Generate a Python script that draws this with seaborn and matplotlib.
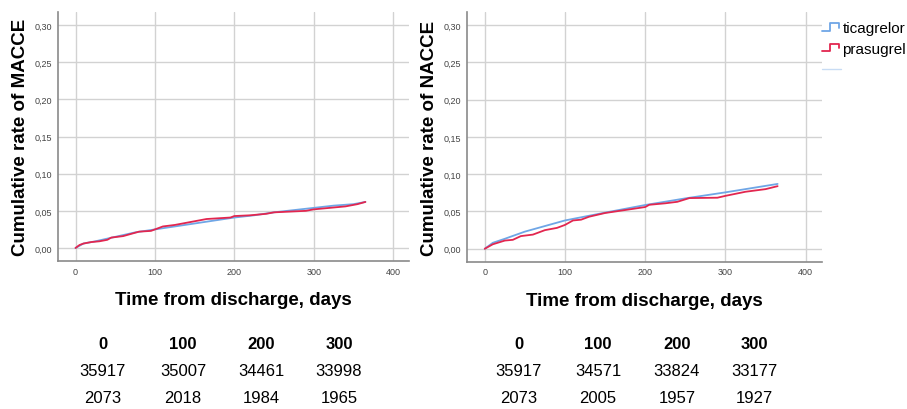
import matplotlib
matplotlib.use("Agg")
import matplotlib.pyplot as plt
import seaborn as sns
import pandas as pd
from matplotlib.lines import Line2D
from matplotlib.legend_handler import HandlerBase, HandlerLine2D

sns.set_style("white")
plt.rcParams['font.family'] = ['Liberation Sans', 'DejaVu Sans']
plt.rcParams['text.color'] = 'black'
plt.rcParams['axes.labelcolor'] = 'black'

# ---- data ----
drugs = ["ticagrelor", "prasugrel"]
colors = {"ticagrelor": "#6fa6e6", "prasugrel": "#e2264f"}

macce_tica_days = [0, 10, 25, 50, 75, 100, 125, 150, 175, 200, 225, 250, 275, 300, 325, 350, 365]
macce_tica_rate = [0, 0.006, 0.009, 0.015, 0.021, 0.025, 0.029, 0.033, 0.037, 0.041, 0.044,
                   0.048, 0.051, 0.054, 0.057, 0.059, 0.062]
macce_pras_days = [0, 5, 10, 20, 30, 40, 45, 60, 70, 80, 95, 100, 110, 125, 140, 155, 165, 180,
                   195, 200, 220, 240, 250, 270, 290, 300, 320, 340, 355, 365]
macce_pras_rate = [0, 0.004, 0.006, 0.008, 0.009, 0.011, 0.014, 0.016, 0.019, 0.022, 0.023, 0.025,
                   0.029, 0.031, 0.034, 0.037, 0.039, 0.040, 0.041, 0.043, 0.044, 0.046, 0.048,
                   0.049, 0.050, 0.052, 0.054, 0.056, 0.059, 0.062]

nacce_tica_days = [0, 10, 25, 50, 100, 150, 200, 250, 300, 365]
nacce_tica_rate = [0, 0.008, 0.0134, 0.023, 0.038, 0.0485, 0.0587, 0.0676, 0.0757, 0.087]
nacce_pras_days = [0, 10, 25, 35, 45, 60, 75, 90, 100, 110, 120, 130, 150, 175, 200, 205, 225,
                   240, 255, 290, 300, 325, 350, 365]
nacce_pras_rate = [0, 0.006, 0.011, 0.012, 0.017, 0.019, 0.025, 0.028, 0.032, 0.038, 0.039, 0.043,
                   0.048, 0.052, 0.056, 0.059, 0.061, 0.063, 0.068, 0.0685, 0.071, 0.0765, 0.080,
                   0.084]

risk_days = ["0", "100", "200", "300"]
macce_risk_tica = ["35917", "35007", "34461", "33998"]
macce_risk_pras = ["2073", "2018", "1984", "1965"]
nacce_risk_tica = ["35917", "34571", "33824", "33177"]
nacce_risk_pras = ["2073", "2005", "1957", "1927"]

y_ticks = [0, 0.05, 0.10, 0.15, 0.20, 0.25, 0.30]
x_ticks = [0, 100, 200, 300, 400]


def make_df(td, tr, pd_, pr):
    a = pd.DataFrame({"day": td, "rate": tr, "drug": "ticagrelor"})
    b = pd.DataFrame({"day": pd_, "rate": pr, "drug": "prasugrel"})
    return pd.concat([a, b], ignore_index=True)


class StepHandler(HandlerBase):
    def create_artists(self, legend, orig_handle, xdescent, ydescent, width, height, fontsize, trans):
        lo = -ydescent + height * 0.15
        hi = -ydescent + height * 0.85
        x0 = -xdescent
        xs = [x0, x0 + width * 0.45, x0 + width * 0.45, x0 + width * 0.9, x0 + width * 0.9]
        ys = [lo, lo, hi, hi, lo + (hi - lo) * 0.4]
        ln = Line2D(xs, ys, color=orig_handle.get_color(), lw=1.3, transform=trans)
        return [ln]


fig = plt.figure(figsize=(9.07, 4.10), dpi=100)
ax1 = fig.add_axes([0.064, 0.361, 0.387, 0.607])
ax2 = fig.add_axes([0.515, 0.359, 0.391, 0.609])

panels = [
    (ax1, make_df(macce_tica_days, macce_tica_rate, macce_pras_days, macce_pras_rate),
     "Cumulative rate of MACCE"),
    (ax2, make_df(nacce_tica_days, nacce_tica_rate, nacce_pras_days, nacce_pras_rate),
     "Cumulative rate of NACCE"),
]

for ax, df, ylab in panels:
    sns.lineplot(data=df, x="day", y="rate", hue="drug", hue_order=["ticagrelor", "prasugrel"],
                 palette=colors, linewidth=1.3, ax=ax, legend=False, estimator=None, sort=True)
    ax.set_xlim(-22, 420)
    ax.set_ylim(-0.0175, 0.3175)
    ax.set_xticks(x_ticks)
    ax.set_yticks(y_ticks)
    ax.set_yticklabels([f"{v:.2f}".replace(".", ",") for v in y_ticks])
    ax.tick_params(axis="both", length=0, labelsize=6.5, labelcolor="#444444", pad=4)
    ax.grid(True, color="#d2d2d2", linewidth=1.0)
    ax.set_axisbelow(True)
    for s in ["top", "right"]:
        ax.spines[s].set_visible(False)
    for s in ["left", "bottom"]:
        ax.spines[s].set_color("#8a8a8a")
        ax.spines[s].set_linewidth(1.2)
    ax.set_xlabel("Time from discharge, days", fontsize=13.5, fontweight="bold", labelpad=11)
    ax.set_ylabel(ylab, fontsize=13.5, fontweight="bold", labelpad=4)

h_tica = Line2D([], [], color=colors["ticagrelor"])
h_pras = Line2D([], [], color=colors["prasugrel"])
h_cens = Line2D([], [], color="#c8dcf4", lw=1.0)
leg = fig.legend([h_tica, h_pras, h_cens], ["ticagrelor", "prasugrel", ""], loc="upper left",
                 bbox_to_anchor=(0.906, 0.946), frameon=False, fontsize=11,
                 handler_map={h_tica: StepHandler(), h_pras: StepHandler(),
                              h_cens: HandlerLine2D()},
                 handlelength=1.25, handletextpad=0.1, labelspacing=0.45, borderaxespad=0,
                 borderpad=0)

# numbers at risk tables
tfont = ['Liberation Sans Narrow', 'Liberation Sans', 'DejaVu Sans']
left_cols = [103, 183, 261, 339]
right_cols = [519, 598, 677, 754]
rows_y = [345, 372, 399]
for cols, r1, r2 in [(left_cols, macce_risk_tica, macce_risk_pras),
                     (right_cols, nacce_risk_tica, nacce_risk_pras)]:
    for i, x in enumerate(cols):
        fig.text(x / 907, 1 - rows_y[0] / 410, risk_days[i], ha="center", va="center",
                 fontsize=12, fontweight="bold", family=tfont)
        fig.text(x / 907, 1 - rows_y[1] / 410, r1[i], ha="center", va="center",
                 fontsize=12, family=tfont)
        fig.text(x / 907, 1 - rows_y[2] / 410, r2[i], ha="center", va="center",
                 fontsize=12, family=tfont)

fig.savefig("out.png", dpi=100)
